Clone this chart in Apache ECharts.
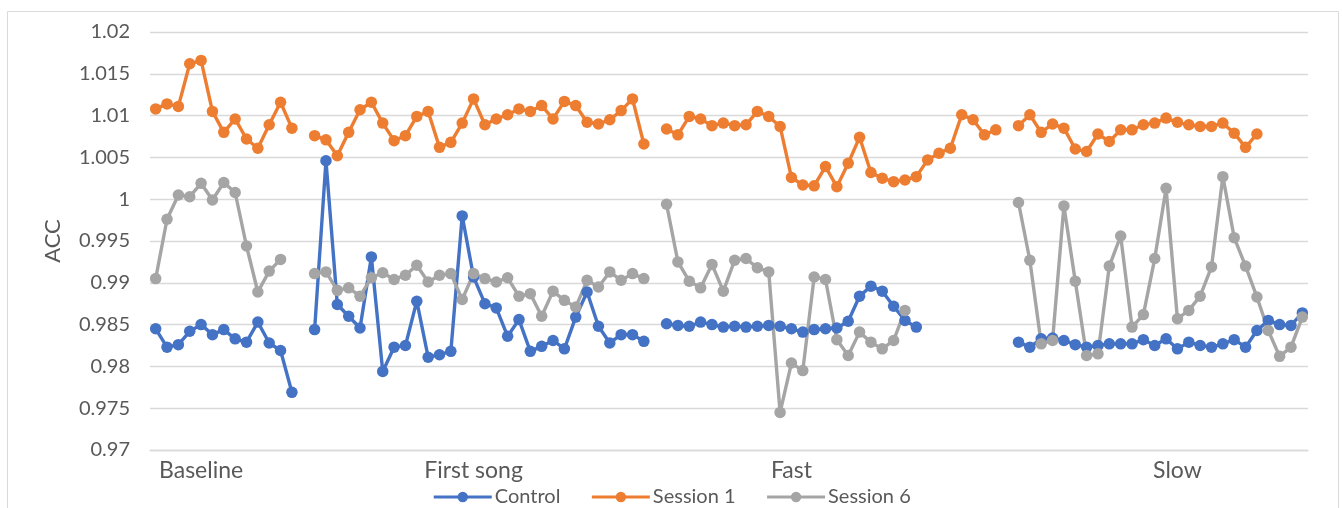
<!DOCTYPE html>
<html>
<head>
<meta charset="utf-8">
<script src="https://cdn.jsdelivr.net/npm/echarts@6/dist/echarts.min.js"></script>
<style>
  html, body { margin: 0; padding: 0; background: #fff; }
  #chart { width: 1343px; height: 508px; }
</style>
</head>
<body>
<div id="chart"></div>
<script>
// ---- data ----
const segmentNames = ['Baseline', 'First song', 'Fast', 'Slow'];
const segmentSlots = [13, 30, 30, 26];     // category slots per segment
const segmentLabelSlot = [4, 14, 11, 14];  // slot within segment that carries the label
const yTicks = [0.97, 0.975, 0.98, 0.985, 0.99, 0.995, 1, 1.005, 1.01, 1.015, 1.02];

const controlBaseline = [0.9845, 0.9823, 0.9826, 0.9842, 0.9850, 0.9838, 0.9844, 0.9833, 0.9829, 0.9853, 0.9828, 0.9819, 0.9769];
const controlFirstSong = [0.9844, 1.0046, 0.9874, 0.9860, 0.9846, 0.9931, 0.9794, 0.9823, 0.9825, 0.9878, 0.9811, 0.9814, 0.9818, 0.9980, 0.9907, 0.9875, 0.9870, 0.9836, 0.9856, 0.9818, 0.9824, 0.9831, 0.9821, 0.9859, 0.9889, 0.9848, 0.9828, 0.9838, 0.9838, 0.9830];
const controlFast = [0.9851, 0.9849, 0.9848, 0.9853, 0.9850, 0.9847, 0.9848, 0.9847, 0.9848, 0.9849, 0.9848, 0.9845, 0.9841, 0.9844, 0.9845, 0.9846, 0.9854, 0.9884, 0.9896, 0.9890, 0.9872, 0.9855, 0.9847];
const controlSlow = [0.9829, 0.9823, 0.9833, 0.9834, 0.9831, 0.9826, 0.9823, 0.9825, 0.9827, 0.9827, 0.9827, 0.9832, 0.9825, 0.9833, 0.9821, 0.9829, 0.9825, 0.9823, 0.9827, 0.9832, 0.9823, 0.9843, 0.9855, 0.9850, 0.9849, 0.9864];

const session1Baseline = [1.0108, 1.0114, 1.0111, 1.0162, 1.0166, 1.0105, 1.0080, 1.0096, 1.0072, 1.0061, 1.0089, 1.0116, 1.0085];
const session1FirstSong = [1.0076, 1.0071, 1.0052, 1.0080, 1.0107, 1.0116, 1.0091, 1.0070, 1.0076, 1.0099, 1.0105, 1.0062, 1.0068, 1.0091, 1.0120, 1.0089, 1.0096, 1.0101, 1.0108, 1.0105, 1.0112, 1.0096, 1.0117, 1.0112, 1.0092, 1.0090, 1.0095, 1.0106, 1.0120, 1.0066];
const session1Fast = [1.0084, 1.0077, 1.0099, 1.0096, 1.0088, 1.0091, 1.0088, 1.0089, 1.0105, 1.0099, 1.0087, 1.0026, 1.0017, 1.0016, 1.0039, 1.0015, 1.0043, 1.0074, 1.0032, 1.0025, 1.0021, 1.0023, 1.0027, 1.0047, 1.0055, 1.0061, 1.0101, 1.0095, 1.0077, 1.0083];
const session1Slow = [1.0088, 1.0101, 1.0080, 1.0090, 1.0085, 1.0060, 1.0057, 1.0078, 1.0069, 1.0083, 1.0083, 1.0089, 1.0091, 1.0097, 1.0092, 1.0089, 1.0087, 1.0087, 1.0091, 1.0079, 1.0062, 1.0078];

const session6Baseline = [0.9905, 0.9976, 1.0005, 1.0003, 1.0019, 0.9999, 1.0020, 1.0008, 0.9944, 0.9889, 0.9914, 0.9928];
const session6FirstSong = [0.9911, 0.9913, 0.9891, 0.9894, 0.9884, 0.9906, 0.9912, 0.9904, 0.9909, 0.9921, 0.9901, 0.9909, 0.9911, 0.9880, 0.9911, 0.9905, 0.9901, 0.9906, 0.9884, 0.9887, 0.9860, 0.9890, 0.9879, 0.9871, 0.9903, 0.9895, 0.9913, 0.9903, 0.9911, 0.9905];
const session6Fast = [0.9994, 0.9925, 0.9902, 0.9894, 0.9922, 0.9890, 0.9927, 0.9929, 0.9918, 0.9913, 0.9745, 0.9804, 0.9795, 0.9907, 0.9904, 0.9832, 0.9813, 0.9841, 0.9829, 0.9821, 0.9831, 0.9867];
const session6Slow = [0.9996, 0.9927, 0.9827, 0.9831, 0.9992, 0.9902, 0.9813, 0.9815, 0.9920, 0.9956, 0.9847, 0.9862, 0.9929, 1.0013, 0.9857, 0.9867, 0.9884, 0.9919, 1.0027, 0.9954, 0.9920, 0.9883, 0.9843, 0.9812, 0.9823, 0.9859];

// ---- build the category axis and series from the segments ----
function pad(arr, len) {
  const out = arr.slice();
  while (out.length < len) out.push(null);
  return out;
}
function joinSegments(parts) {
  let out = [];
  parts.forEach((p, i) => {
    if (i > 0) out.push(null);   // one empty category between segments
    out = out.concat(pad(p, segmentSlots[i]));
  });
  return out;
}
const categories = [];
const labelAt = {};
segmentSlots.forEach((n, i) => {
  if (i > 0) categories.push('');
  for (let k = 0; k < n; k++) {
    if (k === segmentLabelSlot[i]) labelAt[categories.length] = segmentNames[i];
    categories.push('');
  }
});

const control = joinSegments([controlBaseline, controlFirstSong, controlFast, controlSlow]);
const session1 = joinSegments([session1Baseline, session1FirstSong, session1Fast, session1Slow]);
const session6 = joinSegments([session6Baseline, session6FirstSong, session6Fast, session6Slow]);

const FONT = "Lato, 'Liberation Sans Narrow', sans-serif";
const TXT = '#595959';

function lineSeries(name, data, color) {
  return {
    name: name,
    type: 'line',
    data: data,
    connectNulls: false,
    symbol: 'circle',
    symbolSize: 11.5,
    showAllSymbol: true,
    lineStyle: { width: 3.4, color: color },
    itemStyle: { color: color },
    emphasis: { disabled: true }
  };
}

const chart = echarts.init(document.getElementById('chart'), null, { renderer: 'canvas' });
chart.setOption({
  animation: false,
  backgroundColor: '#ffffff',
  graphic: [{
    type: 'rect',
    left: 5, top: 9,
    shape: { width: 1331, height: 520 },
    style: { fill: 'none', stroke: '#D9D9D9', lineWidth: 1 },
    silent: true
  }],
  grid: { left: 150, right: 35, top: 32, bottom: 58, containLabel: false },
  legend: {
    bottom: -4,
    left: 'center',
    itemWidth: 58,
    itemHeight: 13,
    itemGap: 30,
    lineStyle: { width: 3 },
    textStyle: { fontFamily: FONT, fontSize: 20, color: TXT, padding: [0, 0, 0, -2] },
    data: ['Control', 'Session 1', 'Session 6']
  },
  xAxis: {
    type: 'category',
    data: categories,
    boundaryGap: true,
    axisLine: { show: true, lineStyle: { color: '#D9D9D9', width: 1.3 } },
    axisTick: { show: false },
    axisLabel: {
      interval: 0,
      margin: 9,
      fontFamily: FONT, fontSize: 23, color: TXT,
      formatter: function (v, idx) { return labelAt[idx] || ''; }
    },
    splitLine: { show: false }
  },
  yAxis: {
    type: 'value',
    min: yTicks[0],
    max: yTicks[yTicks.length - 1],
    interval: 0.005,
    name: 'ACC',
    nameLocation: 'middle',
    nameGap: 86,
    nameTextStyle: { fontFamily: FONT, fontSize: 22, color: TXT },
    axisLine: { show: false },
    axisTick: { show: false },
    axisLabel: {
      margin: 20,
      fontFamily: FONT, fontSize: 20, color: TXT,
      formatter: function (v) { return String(parseFloat(v.toFixed(3))); }
    },
    splitLine: { show: true, lineStyle: { color: '#D9D9D9', width: 1.3 } }
  },
  series: [
    lineSeries('Control', control, '#4472C4'),
    lineSeries('Session 1', session1, '#ED7D31'),
    lineSeries('Session 6', session6, '#A5A5A5')
  ]
});
</script>
</body>
</html>
